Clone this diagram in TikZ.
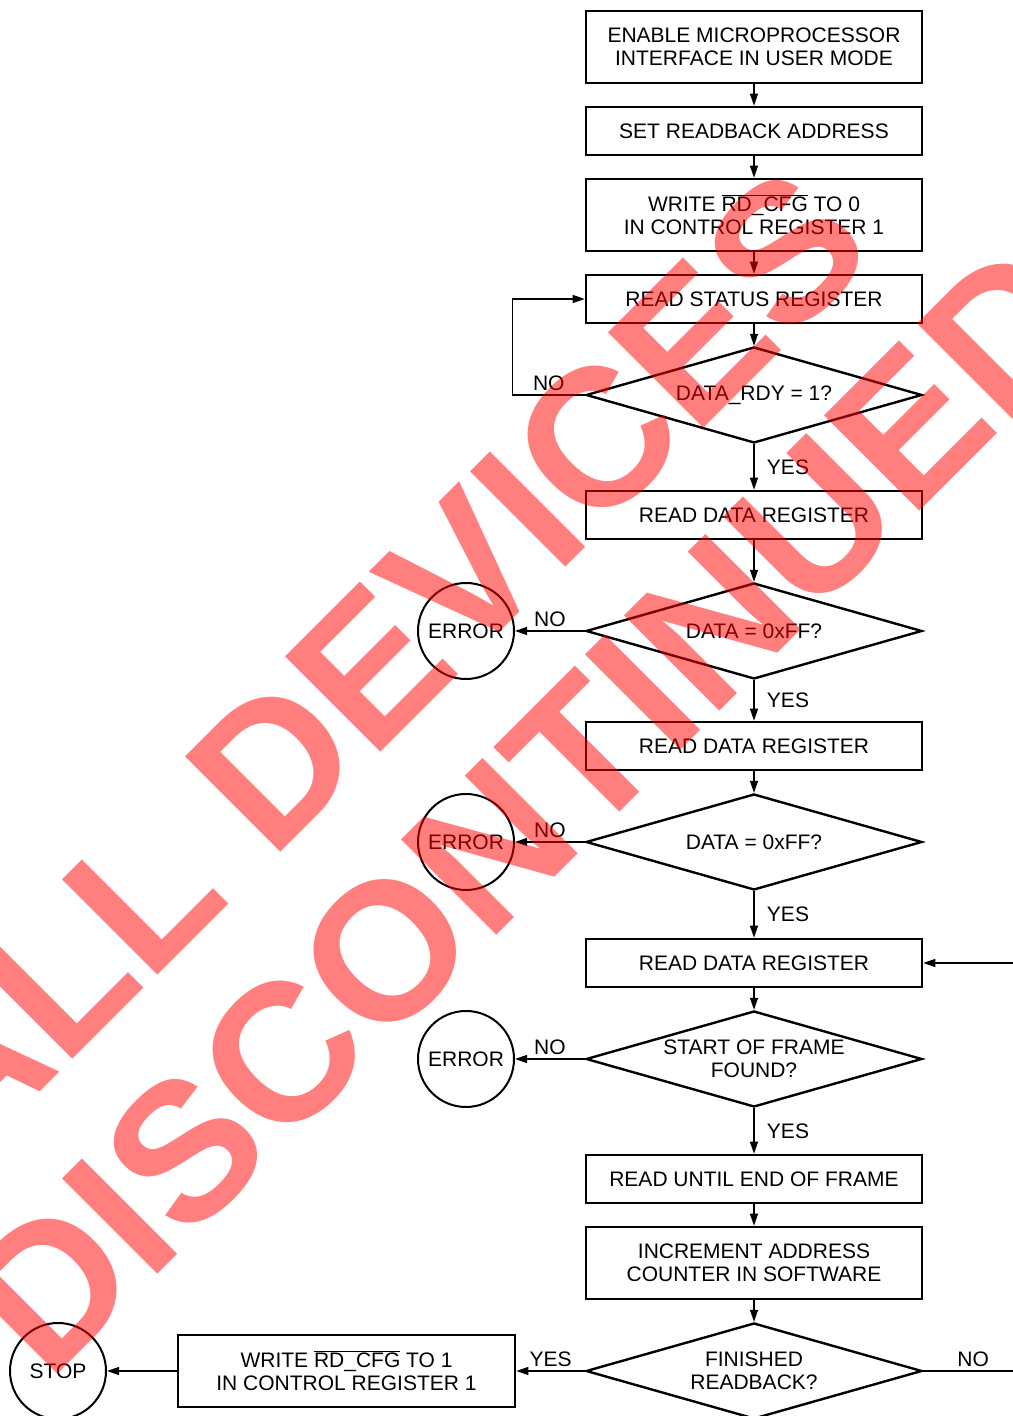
\documentclass[tikz,border=0pt]{standalone}
\usepackage{fontspec}
\setmainfont{Liberation Sans}
\usetikzlibrary{arrows.meta,shapes.geometric}

\begin{document}
\begin{tikzpicture}[x=1pt,y=1pt,>={Triangle[length=12pt,width=8pt]},every node/.style={font=\fontsize{21}{23}\selectfont},
  box/.style={draw,line width=2.6pt,minimum width=336pt,minimum height=48pt,align=center,inner sep=0pt},
  tallbox/.style={box,minimum height=72pt},
  decision/.style={draw,diamond,line width=2.4pt,minimum width=336pt,minimum height=96pt,aspect=3.5,align=center,inner sep=0pt},
  endcircle/.style={draw,circle,line width=2pt,minimum size=96pt,inner sep=0pt},
  flow/.style={->,line width=1.3pt},
  wmark/.style={font=\fontsize{196}{196}\selectfont\bfseries,text=red,text opacity=0.5,inner sep=0pt,rotate=45}]
\useasboundingbox (0,0) rectangle (1012,1416);
% main column
\node[tallbox] (enable) at (754,1369) {ENABLE MICROPROCESSOR\\INTERFACE IN USER MODE};
\node[box] (setaddr) at (754,1285) {SET READBACK ADDRESS};
\node[tallbox] (cfgzero) at (754,1201) {WRITE $\overline{\mbox{RD\_CFG}}$ TO 0\\IN CONTROL REGISTER 1};
\node[box] (status) at (754,1117) {READ STATUS REGISTER};
\node[decision] (ready) at (754,1021) {DATA\_RDY = 1?};
\node[box] (dataA) at (754,901) {READ DATA REGISTER};
\node[decision] (dummyA) at (754,785) {DATA = 0xFF?};
\node[box] (dataB) at (754,670) {READ DATA REGISTER};
\node[decision] (dummyB) at (754,574) {DATA = 0xFF?};
\node[box] (dataC) at (754,453) {READ DATA REGISTER};
\node[decision] (sof) at (754,357) {START OF FRAME\\FOUND?};
\node[box] (frame) at (754,237) {READ UNTIL END OF FRAME};
\node[tallbox] (incr) at (754,153) {INCREMENT ADDRESS\\COUNTER IN SOFTWARE};
\node[decision] (done) at (754,45) {FINISHED\\READBACK?};
% side branches
\node[endcircle] (errA) at (466,785) {ERROR};
\node[endcircle] (errB) at (466,574) {ERROR};
\node[endcircle] (errC) at (466,357) {ERROR};
\node[tallbox,minimum width=337pt] (cfgone) at (346.5,45) {WRITE $\overline{\mbox{RD\_CFG}}$ TO 1\\IN CONTROL REGISTER 1};
\node[endcircle] (stop) at (58,45) {STOP};
% connectors
\draw[flow] (enable)--(setaddr);\draw[flow] (setaddr)--(cfgzero);\draw[flow] (cfgzero)--(status);\draw[flow] (status)--(ready);
\draw[flow] (ready)--node[right,xshift=9pt]{YES}(dataA);\draw[flow] (ready.west)--node[above]{NO}++(-72,0)|-(status.west);
\draw[flow] (dataA)--(dummyA);\draw[flow] (dummyA)--node[right,xshift=9pt]{YES}(dataB);\draw[flow] (dummyA)--node[above]{NO}(errA);
\draw[flow] (dataB)--(dummyB);\draw[flow] (dummyB)--node[right,xshift=9pt]{YES}(dataC);\draw[flow] (dummyB)--node[above]{NO}(errB);
\draw[flow] (dataC)--(sof);\draw[flow] (sof)--node[right,xshift=9pt]{YES}(frame);\draw[flow] (sof)--node[above]{NO}(errC);
\draw[flow] (frame)--(incr);\draw[flow] (incr)--(done);
\draw[flow] (done)--node[above]{YES}(cfgone);\draw[flow] (cfgone)--(stop);
\draw[flow] (done.east)--node[above]{NO}++(100,0)|-(dataC.east);
% watermark
\node[wmark] (wmall) at (374,753) {ALL DEVICES};
\node[wmark] (wmdisc) at (528,608) {DISCONTINUED};
\end{tikzpicture}
\end{document}
